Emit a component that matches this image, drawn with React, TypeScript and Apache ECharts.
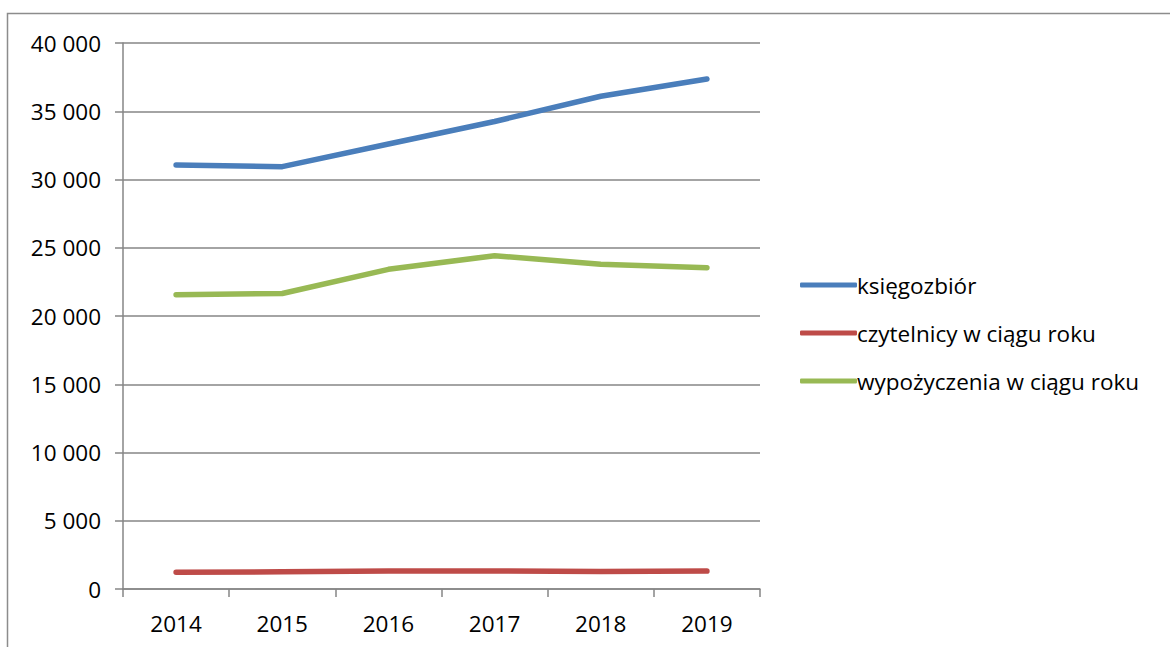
import React, { useEffect, useRef } from "react";
import * as echarts from "echarts";

const years = ["2014", "2015", "2016", "2017", "2018", "2019"];
const seriesNames = ["księgozbiór", "czytelnicy w ciągu roku", "wypożyczenia w ciągu roku"];
const ksiegozbior = [31060, 30940, 32600, 34250, 36100, 37360];
const czytelnicy = [1220, 1260, 1310, 1320, 1290, 1310];
const wypozyczenia = [21560, 21650, 23420, 24420, 23790, 23540];
const colors = ["#4A7EBB", "#BE4B48", "#98B954"];

const FONT = "'Open Sans', sans-serif";

export default function App() {
  const ref = useRef<HTMLDivElement>(null);
  useEffect(() => {
    if (!ref.current) return;
    const chart = echarts.init(ref.current, null, { renderer: "svg" });
    const data = [ksiegozbior, czytelnicy, wypozyczenia];
    chart.setOption({
      animation: false,
      backgroundColor: "#ffffff",
      textStyle: { fontFamily: FONT },
      graphic: [
        {
          type: "rect",
          shape: { x: 7.5, y: 13.5, width: 1300, height: 800 },
          style: { fill: "none", stroke: "#8c8c8c", lineWidth: 1.5 },
          silent: true,
        },
      ],
      grid: { left: 123, right: 410, top: 43, bottom: 58, containLabel: false },
      legend: {
        orient: "vertical",
        left: 795,
        top: 268,
        icon: "roundRect",
        itemWidth: 57,
        itemHeight: 5,
        itemGap: 24,
        textStyle: { fontFamily: FONT, fontSize: 22.5, color: "#000", lineHeight: 24, padding: [0, 0, 0, -5] },
        data: seriesNames,
      },
      xAxis: {
        type: "category",
        data: years,
        boundaryGap: true,
        axisLine: { lineStyle: { color: "#868686", width: 1.5 } },
        axisTick: { show: true, length: 8, lineStyle: { color: "#868686", width: 1.5 } },
        axisLabel: { color: "#000", fontSize: 22.5, fontFamily: FONT, margin: 23 },
      },
      yAxis: {
        type: "value",
        min: 0,
        max: 40000,
        interval: 5000,
        axisLine: { show: true, lineStyle: { color: "#868686", width: 1.5 } },
        axisTick: { show: true, length: 8, lineStyle: { color: "#868686", width: 1.5 } },
        splitLine: { show: true, lineStyle: { color: "#868686", width: 1.5 } },
        axisLabel: {
          color: "#000",
          fontSize: 22.5,
          fontFamily: FONT,
          margin: 22,
          formatter: (v: number) => String(v).replace(/\B(?=(\d{3})+(?!\d))/g, " "),
        },
      },
      series: seriesNames.map((name, i) => ({
        name,
        type: "line",
        data: data[i],
        symbol: "none",
        showSymbol: false,
        lineStyle: { color: colors[i], width: 5.5, cap: "round", join: "round" },
        itemStyle: { color: colors[i] },
      })),
    });
    return () => chart.dispose();
  }, []);
  return <div ref={ref} style={{ position: "fixed", left: 0, top: 0, width: 1170, height: 647 }} />;
}
